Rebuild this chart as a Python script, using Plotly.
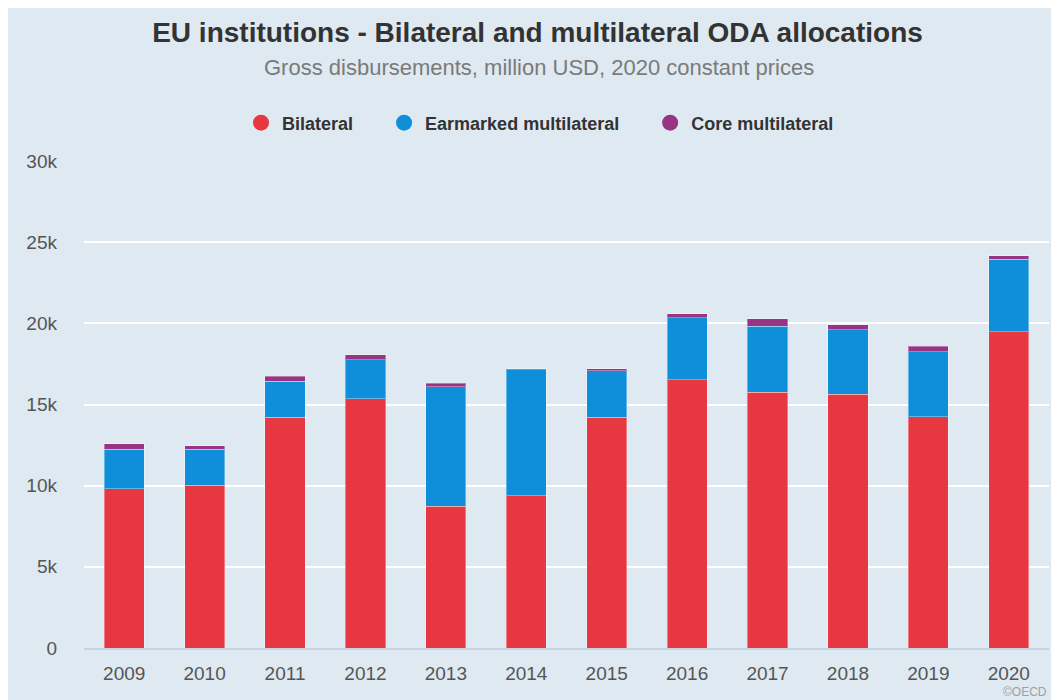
import plotly.graph_objects as go

years = ['2009', '2010', '2011', '2012', '2013', '2014',
         '2015', '2016', '2017', '2018', '2019', '2020']
bilateral = [9810, 10040, 14220, 15340, 8740, 9380,
             14220, 16520, 15760, 15640, 14250, 19490]
earmarked = [2430, 2200, 2200, 2410, 7350, 7750,
             2860, 3830, 4050, 3970, 4010, 4460]
core = [330, 210, 310, 310, 210, 60,
        110, 250, 460, 310, 340, 220]

series = [
    ('Bilateral', bilateral, '#E73741'),
    ('Earmarked multilateral', earmarked, '#0F8FD9'),
    ('Core multilateral', core, '#993484'),
]

bg = '#DEE9F1'
font_family = 'Liberation Sans, Arial, sans-serif'
pad = '\u00a0' * 5  # extra room between legend entries

fig = go.Figure()

for name, values, color in series:
    fig.add_trace(go.Bar(
        name=name,
        x=years,
        y=values,
        marker=dict(color=color, line=dict(color='rgba(255,255,255,0.35)', width=1)),
        showlegend=False,
        hovertemplate='%{x}<br>' + name + ': %{y:,.0f}<extra></extra>',
    ))

# legend entries with round markers
for name, values, color in series:
    fig.add_trace(go.Scatter(
        name=name + pad,
        x=[None],
        y=[None],
        mode='markers',
        marker=dict(color=color, size=18, symbol='circle'),
        showlegend=True,
        hoverinfo='skip',
    ))

fig.update_layout(
    title=dict(
        text='<b>EU institutions - Bilateral and multilateral ODA allocations</b>',
        x=0.5,
        xref='container',
        xanchor='center',
        y=1 - 24 / 700,
        yref='container',
        yanchor='middle',
        font=dict(size=28, color='#333333', family=font_family),
    ),
    barmode='stack',
    bargap=0.5,
    width=1059,
    height=700,
    margin=dict(l=76, r=18, t=153, b=60, autoexpand=False),
    paper_bgcolor=bg,
    plot_bgcolor=bg,
    font=dict(family=font_family, color='#555555', size=19),
    legend=dict(
        orientation='h',
        traceorder='normal',
        x=0.485,
        xanchor='center',
        y=1.078,
        yanchor='middle',
        itemwidth=32,
        font=dict(size=18, color='#333333', family=font_family, weight='bold'),
        bgcolor='rgba(0,0,0,0)',
    ),
    xaxis=dict(
        showgrid=False,
        showline=True,
        linecolor='#C5D3E6',
        linewidth=2,
        ticks='',
        ticklabelstandoff=7,
        tickfont=dict(size=19, color='#555555'),
    ),
    yaxis=dict(
        range=[0, 30000],
        dtick=5000,
        tickformat='~s',
        showgrid=True,
        gridcolor='#FFFFFF',
        gridwidth=2,
        zeroline=False,
        ticks='',
        ticklabelstandoff=26,
        tickfont=dict(size=19, color='#555555'),
    ),
)

fig.add_annotation(
    text='Gross disbursements, million USD, 2020 constant prices',
    xref='paper', yref='paper',
    x=0.472, y=1.191,
    xanchor='center', yanchor='middle',
    showarrow=False,
    font=dict(size=22, color='#7A7A7A'),
)

fig.add_annotation(
    text='©OECD',
    xref='paper', yref='paper',
    x=0.999, y=-0.107,
    xanchor='right', yanchor='bottom',
    showarrow=False,
    borderpad=0,
    font=dict(size=12, color='#A0A0A0'),
)

fig.write_html('out.html')
